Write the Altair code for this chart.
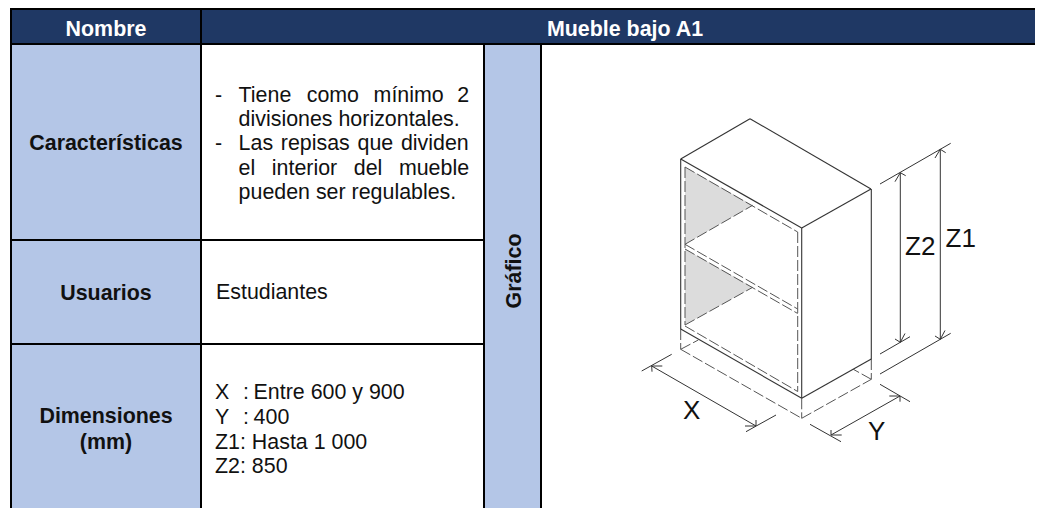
import altair as alt
import pandas as pd

FONT = "Liberation Sans"
NAVY = "#1F3864"
BLUE = "#B4C6E7"
INK = "#111111"

# Table cells: x, x2, y, y2, fill
cells = [
    (11, 1043, 9, 44, NAVY),
    (11, 201, 44, 510, BLUE),
    (484, 541, 44, 510, BLUE),
]
# Table borders
table_lines = [
    (10, 9, 1043, 9), (10, 44, 1043, 44),
    (10, 240, 484, 240), (10, 344, 484, 344),
    (11, 8, 11, 510), (201, 8, 201, 510),
    (484, 44, 484, 510), (541, 44, 541, 510),
]
# Gray shelf shadows: x, y, y2
shade_upper = [(685, 167, 244.3), (752.7, 205.3, 205.3)]
shade_lower = [(685, 249, 325), (752.7, 287.3, 287.3)]

# Cabinet drawing
solid_lines = [
    (750, 118.7, 680.7, 159), (750, 118.7, 871, 189),
    (680.7, 159, 801.7, 228), (801.7, 228, 871, 189),
    (680.7, 159, 680.7, 329), (801.7, 228, 801.7, 398.3),
    (871.3, 189, 871.3, 359), (680.7, 329, 801.7, 398.3),
    (801.7, 398.3, 871.3, 359),
]
dashed_lines = [
    (685, 167, 685, 325), (797.7, 232, 797.7, 391.5),
    (685, 167, 797.7, 232), (685, 244.3, 797.7, 309),
    (685, 249, 797.7, 313.5), (685, 326, 797.7, 391.5),
    (685, 244.3, 752.7, 205.3), (685, 325, 752.7, 287.3),
    (680.7, 329, 680.7, 349.3), (801.7, 398.3, 801.7, 418.3),
    (871.3, 359, 871.3, 379.3), (680.7, 349.3, 801.7, 418.3),
    (801.7, 418.3, 871.3, 379.3), (680.7, 349.3, 698.3, 340),
    (871.3, 379.3, 853.3, 369.3),
]
dimension_lines = [
    # X
    (651.7, 366, 756, 426), (641.7, 371, 671.7, 354.3), (746, 431.7, 776, 415),
    (651.7, 366, 662.3, 366), (651.7, 366, 652, 371.7),
    (756, 426, 745, 426), (756, 426, 756, 420),
    # Y
    (831, 435, 900, 396), (810, 424.3, 841, 441.7), (880, 384.3, 910, 401.7),
    (831, 435, 841.7, 435), (831, 435, 831, 430),
    (900, 396, 889.3, 396), (900, 396, 900, 401.7),
    # Z2
    (900.3, 172.7, 900.3, 342.3), (880, 184, 950.7, 143.3), (880, 354, 910, 336.7),
    (900.3, 172.7, 895, 181.7), (900.3, 172.7, 905.7, 175.7),
    (900.3, 342.3, 895, 339), (900.3, 342.3, 905, 333.5),
    # Z1
    (940.3, 149.3, 940.3, 339.3), (880, 374, 950.7, 333.3),
    (940.3, 149.3, 935, 158), (940.3, 149.3, 945.7, 152.7),
    (940.3, 339.3, 935, 336), (940.3, 339.3, 945, 330.5),
]

# Text
title_text = [(510, 5, "Cuadro N° 16: Ficha de mueble bajo A1")]
header_text = [(106, 36, "Nombre"), (625, 36, "Mueble bajo A1")]
label_text = [
    (106, 150, "Características"), (106, 300, "Usuarios"),
    (106, 423, "Dimensiones"), (106, 449, "(mm)"),
]
rotated_text = [(520.5, 271, "Gráfico")]
body_text = [
    (215, 102, "-"), (238.6, 102, "Tiene"), (306.7, 102, "como"), (373.6, 102, "mínimo"), (457.2, 102, "2"),
    (238.6, 126, "divisiones horizontales."),
    (215, 150, "-"), (238.6, 150, "Las"), (280.8, 150, "repisas"), (357.5, 150, "que"), (400.9, 150, "dividen"),
    (238.6, 175, "el"), (271.8, 175, "interior"), (353.8, 175, "del"), (398.9, 175, "mueble"),
    (238.6, 199, "pueden ser regulables."),
    (216, 299, "Estudiantes"),
    (215, 399, "X"), (243, 399, ":"), (253.6, 399, "Entre 600 y 900"),
    (215, 424, "Y"), (243, 424, ":"), (253.6, 424, "400"),
    (215, 449, "Z1: Hasta 1 000"),
    (215, 473, "Z2: 850"),
]
drawing_text = [
    (905, 255, "Z2"), (945.5, 247, "Z1"), (683, 419, "X"), (868, 440, "Y"),
]

xs = alt.Scale(domain=[8, 1035], range=[0, 1027])
ys = alt.Scale(domain=[8, 508], range=[0, 500])
X = alt.X("x:Q", scale=xs, axis=None)
Y = alt.Y("y:Q", scale=ys, axis=None)


def segs(rows, **kw):
    df = pd.DataFrame(rows, columns=["x", "y", "x2", "y2"])
    return alt.Chart(df).mark_rule(**kw).encode(x=X, y=Y, x2="x2:Q", y2="y2:Q")


def txt(rows, **kw):
    df = pd.DataFrame(rows, columns=["x", "y", "t"])
    base = dict(font=FONT, baseline="alphabetic")
    base.update(kw)
    return alt.Chart(df).mark_text(**base).encode(x=X, y=Y, text="t:N")


def shade(rows):
    df = pd.DataFrame(rows, columns=["x", "y", "y2"])
    return alt.Chart(df).mark_area(color="#DCDCDC").encode(x=X, y=Y, y2="y2:Q")


cell_df = pd.DataFrame(cells, columns=["x", "x2", "y", "y2", "fill"])
cell_layer = alt.Chart(cell_df).mark_rect().encode(
    x=X, x2="x2:Q", y=Y, y2="y2:Q", color=alt.Color("fill:N", scale=None)
)

chart = alt.layer(
    cell_layer,
    shade(shade_upper),
    shade(shade_lower),
    segs(table_lines, color="#000000", strokeWidth=2),
    segs(dashed_lines, color="#555555", strokeWidth=1, strokeDash=[11, 3]),
    segs(solid_lines, color="#333333", strokeWidth=1.1),
    segs(dimension_lines, color="#333333", strokeWidth=1),
    txt(title_text, fontSize=21.4, fontWeight="bold", align="center", color="#000000"),
    txt(header_text, fontSize=21.4, fontWeight="bold", align="center", color="#FFFFFF"),
    txt(label_text, fontSize=21.4, fontWeight="bold", align="center", color=INK),
    txt(rotated_text, fontSize=21.4, fontWeight="bold", align="center", color=INK, angle=270),
    txt(body_text, fontSize=21.4, align="left", color=INK),
    txt(drawing_text, fontSize=26, align="left", color=INK),
).properties(
    width=1027, height=500, padding=0,
    autosize=alt.AutoSizeParams(type="none"),
    background="#FFFFFF",
).configure_view(stroke=None)

chart.save("out.html", embed_options={"renderer": "svg", "actions": False})
